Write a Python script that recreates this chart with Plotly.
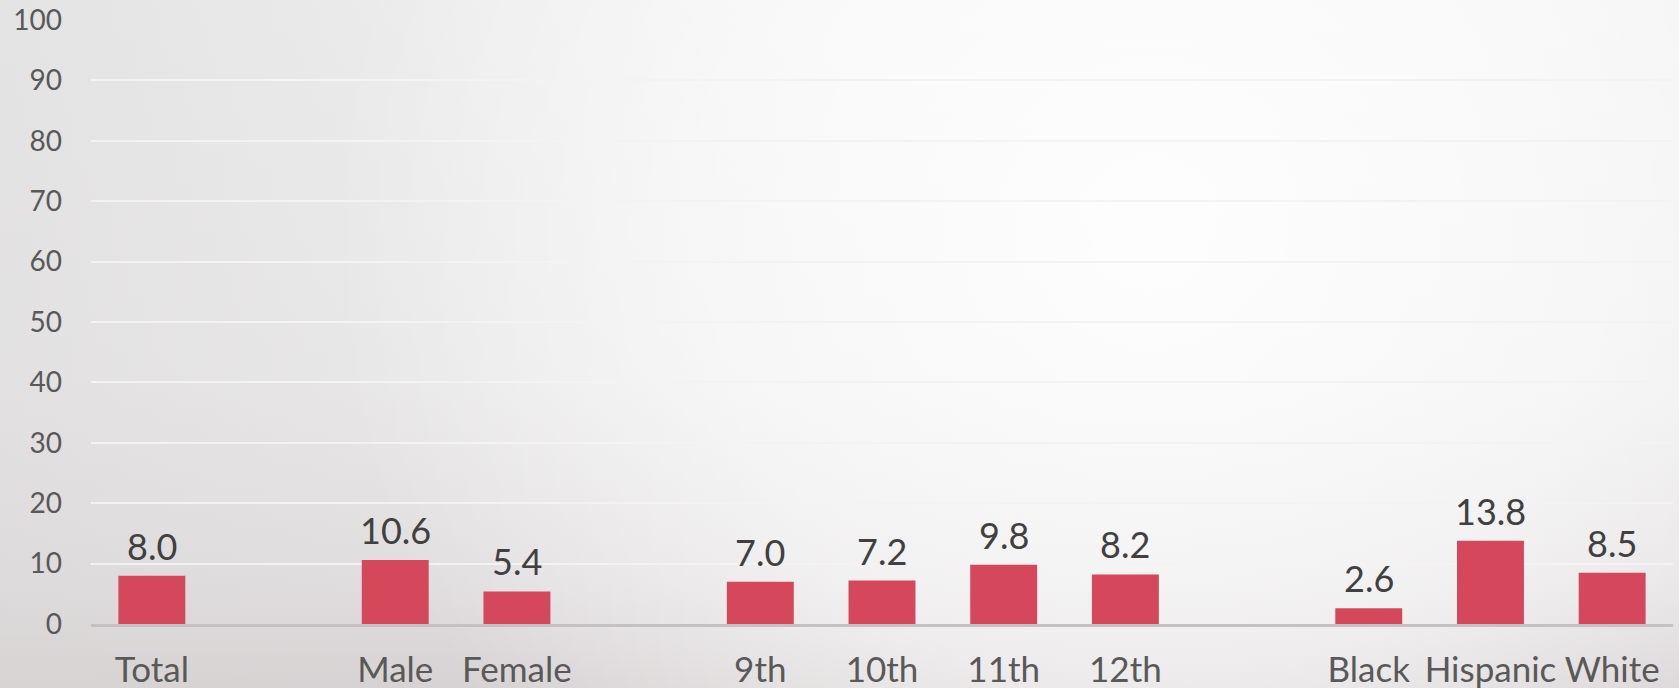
import base64
import plotly.graph_objects as go

categories = ["Total", " ", "Male", "Female", "  ", "9th", "10th", "11th", "12th", "   ", "Black", "Hispanic", "White"]
values = [8.0, None, 10.6, 5.4, None, 7.0, 7.2, 9.8, 8.2, None, 2.6, 13.8, 8.5]
y_ticks = [0, 10, 20, 30, 40, 50, 60, 70, 80, 90, 100]

FONT = "Lato"
BAR = "#D5475A"
W, H = 1679, 688
ML, MR, MT, MB = 91, 6, 20, 64

# soft background gradient (decorative)
svg = f"""<svg xmlns='http://www.w3.org/2000/svg' width='{W}' height='{H}' viewBox='0 0 {W} {H}' preserveAspectRatio='none'>
<defs>
<linearGradient id='v' x1='0' y1='0' x2='0' y2='1'>
<stop offset='0' stop-color='#F1F1F1'/>
<stop offset='0.55' stop-color='#EDECEC'/>
<stop offset='0.85' stop-color='#E2DFE0'/>
<stop offset='1' stop-color='#D6D1D2'/>
</linearGradient>
<radialGradient id='g' cx='1150' cy='230' r='820' gradientUnits='userSpaceOnUse'>
<stop offset='0' stop-color='#FFFFFF' stop-opacity='0.9'/>
<stop offset='0.55' stop-color='#FFFFFF' stop-opacity='0.55'/>
<stop offset='1' stop-color='#FFFFFF' stop-opacity='0'/>
</radialGradient>
<linearGradient id='h' x1='0' y1='0' x2='1' y2='0'>
<stop offset='0' stop-color='#D8D6D6' stop-opacity='0.5'/>
<stop offset='0.3' stop-color='#D8D6D6' stop-opacity='0.15'/>
<stop offset='0.5' stop-color='#D8D6D6' stop-opacity='0'/>
</linearGradient>
</defs>
<rect width='{W}' height='{H}' fill='url(#v)'/>
<rect width='{W}' height='{H}' fill='url(#h)'/>
<rect width='{W}' height='{H}' fill='url(#g)'/>
</svg>"""
bg_src = "data:image/svg+xml;base64," + base64.b64encode(svg.encode()).decode()

pw = W - ML - MR
ph = H - MT - MB

fig = go.Figure()
fig.add_trace(go.Bar(
    x=categories, y=values,
    marker=dict(color=BAR, line=dict(width=0)),
    hoverinfo="skip",
))

for c, v in zip(categories, values):
    if v is None:
        continue
    fig.add_annotation(
        x=c, y=v, text=f"{v:.1f}", showarrow=False,
        yanchor="bottom", yshift=6,
        font=dict(family=FONT, size=36, color="#404040"),
    )

fig.add_layout_image(dict(
    source=bg_src, xref="paper", yref="paper",
    x=-ML / pw, y=1 + MT / ph, sizex=W / pw, sizey=H / ph,
    xanchor="left", yanchor="top", sizing="stretch", layer="below",
))

fig.update_layout(
    width=W, height=H,
    margin=dict(l=ML, r=MR, t=MT, b=MB),
    paper_bgcolor="#EEEDED",
    plot_bgcolor="rgba(0,0,0,0)",
    bargap=0.45,
    showlegend=False,
    font=dict(family=FONT, color="#595959"),
)
fig.update_xaxes(
    type="category", categoryorder="array", categoryarray=categories,
    showgrid=False, showline=True, linecolor="#C3C1C1", linewidth=3,
    ticks="", tickfont=dict(family=FONT, size=35, color="#595959"),
    ticklabelstandoff=13, automargin=False, zeroline=False,
)
fig.update_yaxes(
    range=[0, 100], tickvals=y_ticks, showgrid=True, gridcolor="#F3F3F3", gridwidth=2,
    zeroline=False, showline=False, ticks="",
    tickfont=dict(family=FONT, size=28, color="#595959"),
    ticklabelstandoff=28, automargin=False,
)

fig.write_html("out.html", config={"displayModeBar": False},
               post_script="document.body.style.margin='0';")
